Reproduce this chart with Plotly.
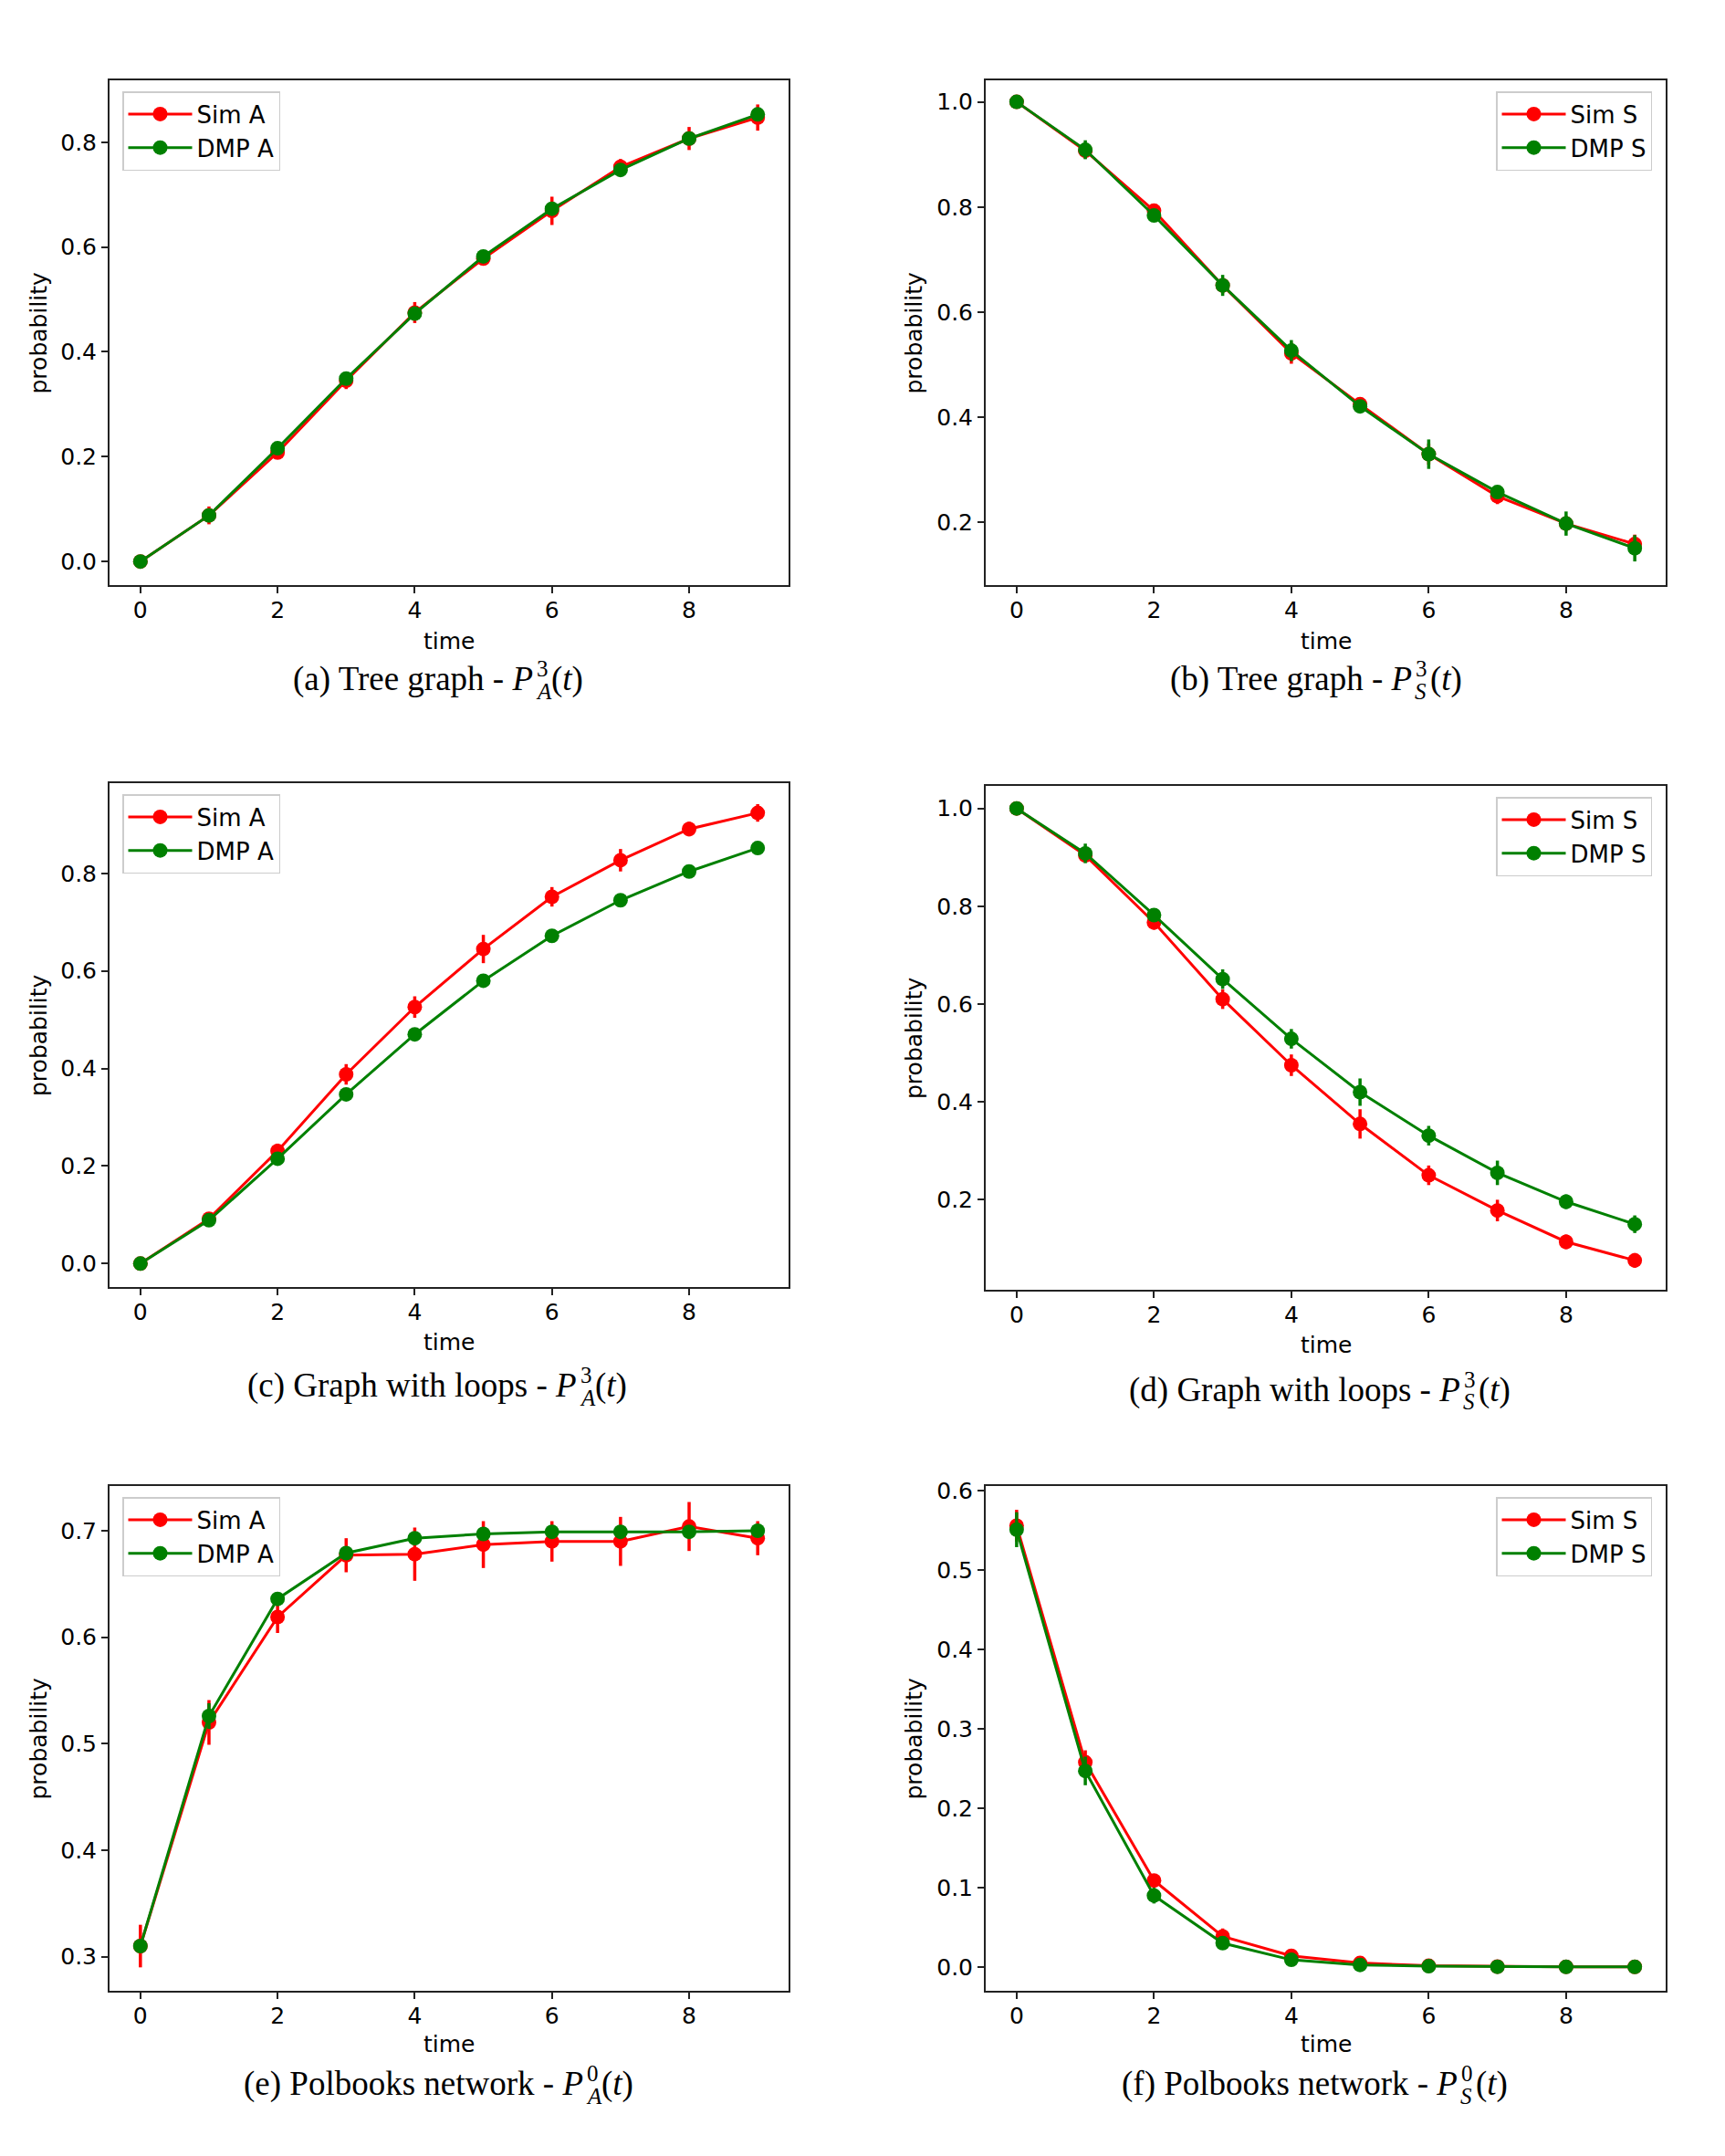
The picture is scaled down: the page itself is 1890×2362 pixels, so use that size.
import plotly.graph_objects as go

# ---------------- data ----------------
time = [0, 1, 2, 3, 4, 5, 6, 7, 8, 9]

# (a) Tree graph - P_A^3
a_sim = [0.0, 0.088, 0.208, 0.345, 0.475, 0.578, 0.669, 0.753, 0.807, 0.847]
a_sim_err = [0.003, 0.017, 0.008, 0.016, 0.02, 0.01, 0.027, 0.015, 0.022, 0.025]
a_dmp = [0.0, 0.088, 0.216, 0.349, 0.473, 0.582, 0.673, 0.747, 0.807, 0.853]
a_dmp_err = [0.002, 0.004, 0.004, 0.004, 0.004, 0.004, 0.004, 0.004, 0.004, 0.004]

# (b) Tree graph - P_S^3
b_sim = [1.0, 0.907, 0.793, 0.651, 0.522, 0.425, 0.330, 0.250, 0.198, 0.159]
b_sim_err = [0.003, 0.015, 0.01, 0.015, 0.02, 0.01, 0.02, 0.015, 0.015, 0.018]
b_dmp = [1.0, 0.909, 0.784, 0.651, 0.527, 0.421, 0.330, 0.258, 0.198, 0.151]
b_dmp_err = [0.003, 0.018, 0.01, 0.02, 0.02, 0.01, 0.028, 0.012, 0.023, 0.025]

# (c) Graph with loops - P_A^3
c_sim = [0.0, 0.092, 0.231, 0.388, 0.526, 0.645, 0.752, 0.827, 0.891, 0.924]
c_sim_err = [0.003, 0.008, 0.015, 0.021, 0.022, 0.029, 0.02, 0.023, 0.015, 0.018]
c_dmp = [0.0, 0.089, 0.215, 0.347, 0.470, 0.580, 0.672, 0.745, 0.804, 0.852]
c_dmp_err = [0.002, 0.003, 0.003, 0.003, 0.003, 0.003, 0.003, 0.003, 0.003, 0.003]

# (d) Graph with loops - P_S^3
d_sim = [1.0, 0.904, 0.767, 0.610, 0.475, 0.355, 0.250, 0.178, 0.114, 0.076]
d_sim_err = [0.003, 0.008, 0.015, 0.02, 0.022, 0.03, 0.02, 0.022, 0.015, 0.015]
d_dmp = [1.0, 0.908, 0.782, 0.651, 0.529, 0.420, 0.331, 0.255, 0.196, 0.150]
d_dmp_err = [0.003, 0.02, 0.01, 0.02, 0.02, 0.028, 0.02, 0.025, 0.015, 0.018]

# (e) Polbooks network - P_A^0
e_sim = [0.310, 0.520, 0.619, 0.677, 0.678, 0.687, 0.690, 0.690, 0.704, 0.693]
e_sim_err = [0.02, 0.021, 0.015, 0.016, 0.025, 0.022, 0.019, 0.023, 0.023, 0.016]
e_dmp = [0.310, 0.526, 0.636, 0.679, 0.693, 0.697, 0.699, 0.699, 0.699, 0.700]
e_dmp_err = [0.004, 0.012, 0.004, 0.004, 0.004, 0.004, 0.004, 0.004, 0.004, 0.004]

# (f) Polbooks network - P_S^0
f_sim = [0.556, 0.258, 0.109, 0.0385, 0.014, 0.005, 0.0015, 0.0005, 0.0003, 0.0002]
f_sim_err = [0.02, 0.015, 0.008, 0.01, 0.004, 0.002, 0.001, 0.0005, 0.0003, 0.0002]
f_dmp = [0.551, 0.247, 0.090, 0.030, 0.009, 0.0026, 0.001, 0.0003, 0.0001, 0.0001]
f_dmp_err = [0.022, 0.018, 0.01, 0.008, 0.003, 0.001, 0.0005, 0.0002, 0.0001, 0.0001]

sim_names = ["Sim A", "Sim S", "Sim A", "Sim S", "Sim A", "Sim S"]
dmp_names = ["DMP A", "DMP S", "DMP A", "DMP S", "DMP A", "DMP S"]
# caption pieces: text before the math, superscript, subscript
cap_text = ["(a) Tree graph - ", "(b) Tree graph - ", "(c) Graph with loops - ",
            "(d) Graph with loops - ", "(e) Polbooks network - ", "(f) Polbooks network - "]
cap_sup = ["3", "3", "3", "3", "0", "0"]
cap_sub = ["A", "S", "A", "S", "A", "S"]
yticks = [
    [0.0, 0.2, 0.4, 0.6, 0.8],
    [0.2, 0.4, 0.6, 0.8, 1.0],
    [0.0, 0.2, 0.4, 0.6, 0.8],
    [0.2, 0.4, 0.6, 0.8, 1.0],
    [0.3, 0.4, 0.5, 0.6, 0.7],
    [0.0, 0.1, 0.2, 0.3, 0.4, 0.5, 0.6],
]
xticks = [0, 2, 4, 6, 8]

sims = [(a_sim, a_sim_err), (b_sim, b_sim_err), (c_sim, c_sim_err),
        (d_sim, d_sim_err), (e_sim, e_sim_err), (f_sim, f_sim_err)]
dmps = [(a_dmp, a_dmp_err), (b_dmp, b_dmp_err), (c_dmp, c_dmp_err),
        (d_dmp, d_dmp_err), (e_dmp, e_dmp_err), (f_dmp, f_dmp_err)]

# ---------------- layout (pixels) ----------------
W, H = 1890, 2362
boxes = [
    (120, 864, 88, 641), (1080, 1825, 88, 641),
    (120, 864, 858, 1410), (1080, 1825, 861, 1413),
    (120, 864, 1628, 2181), (1080, 1825, 1628, 2181),
]
yranges = [(-0.045, 0.918), (0.081, 1.041), (-0.048, 0.985),
           (0.016, 1.046), (0.268, 0.742), (-0.030, 0.606)]
time_y = [702, 702, 1471, 1473, 2239, 2239]
cap_y = [744, 744, 1518, 1523, 2283, 2283]
p_end = [586, 1549, 634, 1602, 641, 1599]   # x where the math P ends
prob_x = [42, 1001, 42, 1001, 42, 1001]
legend_left = [True, False, True, False, True, False]

RED = "#ff0000"
GREEN = "#008000"
SANS = "DejaVu Sans"
SERIF = "Liberation Serif"
FS = 25
CAPFS = 37

fig = go.Figure()
annotations = []


def px2x(v):
    return v / W


def px2y(v):
    return 1 - v / H


for i in range(6):
    l, r, t, b = boxes[i]
    ax = "" if i == 0 else str(i + 1)
    lg = "legend" if i == 0 else "legend%d" % (i + 1)
    for (vals, errs), name, col in [(sims[i], sim_names[i], RED), (dmps[i], dmp_names[i], GREEN)]:
        fig.add_trace(go.Scatter(
            x=time, y=vals, name=name, mode="lines+markers",
            line=dict(color=col, width=3),
            marker=dict(color=col, size=16),
            error_y=dict(type="data", array=errs, visible=True, color=col, thickness=3.5, width=0),
            xaxis="x" + ax, yaxis="y" + ax, legend=lg,
        ))
    common = dict(showgrid=False, zeroline=False, showline=True, mirror=True,
                  linecolor="#222222", linewidth=2, ticks="outside", ticklen=7,
                  tickwidth=1.6, tickcolor="#222222", automargin=False,
                  tickfont=dict(family=SANS, size=FS, color="black"))
    fig.update_layout(**{
        "xaxis" + ax: dict(domain=[px2x(l), px2x(r)], range=[-0.45, 9.45], tickvals=xticks,
                           anchor="y" + ax, ticklabelstandoff=-3, **common),
        "yaxis" + ax: dict(domain=[px2y(b), px2y(t)], range=list(yranges[i]), tickvals=yticks[i],
                           tickformat=".1f", anchor="x" + ax, **common),
    })
    if legend_left[i]:
        lx, xa = px2x(l + 14), "left"
    else:
        lx, xa = px2x(r - 15), "right"
    fig.update_layout(**{lg: dict(
        x=lx, xanchor=xa, y=px2y(t + 12), yanchor="top",
        bgcolor="rgba(255,255,255,0.8)", bordercolor="#cccccc", borderwidth=1.5,
        font=dict(family=SANS, size=FS + 1, color="black"),
        tracegroupgap=0, itemwidth=70,
    )})
    annotations.append(dict(text="time", x=px2x((l + r) / 2), y=px2y(time_y[i]),
                            xref="paper", yref="paper", showarrow=False,
                            xanchor="center", yanchor="middle",
                            font=dict(family=SANS, size=FS, color="black")))
    annotations.append(dict(text="probability", x=px2x(prob_x[i]), y=px2y((t + b) / 2),
                            xref="paper", yref="paper", showarrow=False, textangle=-90,
                            xanchor="center", yanchor="middle",
                            font=dict(family=SANS, size=FS, color="black")))
    cy = cap_y[i]
    pe = p_end[i]
    capfont = dict(family=SERIF, size=CAPFS, color="black")
    smallfont = dict(family=SERIF, size=int(CAPFS * 0.7), color="black")
    annotations.append(dict(text=cap_text[i] + "<i>P</i>", x=px2x(pe), y=px2y(cy),
                            xref="paper", yref="paper", showarrow=False,
                            xanchor="right", yanchor="middle", font=capfont))
    annotations.append(dict(text=cap_sup[i], x=px2x(pe), y=px2y(cy - 12),
                            xref="paper", yref="paper", showarrow=False,
                            xanchor="left", yanchor="middle", font=smallfont))
    annotations.append(dict(text="<i>" + cap_sub[i] + "</i>", x=px2x(pe - 1), y=px2y(cy + 13),
                            xref="paper", yref="paper", showarrow=False,
                            xanchor="left", yanchor="middle", font=smallfont))
    annotations.append(dict(text="(<i>t</i>)", x=px2x(pe + 16), y=px2y(cy),
                            xref="paper", yref="paper", showarrow=False,
                            xanchor="left", yanchor="middle", font=capfont))

fig.update_layout(width=W, height=H, margin=dict(l=0, r=0, t=0, b=0, pad=0, autoexpand=False),
                  paper_bgcolor="white", plot_bgcolor="white",
                  showlegend=True, annotations=annotations)

fig.write_html("out.html")
